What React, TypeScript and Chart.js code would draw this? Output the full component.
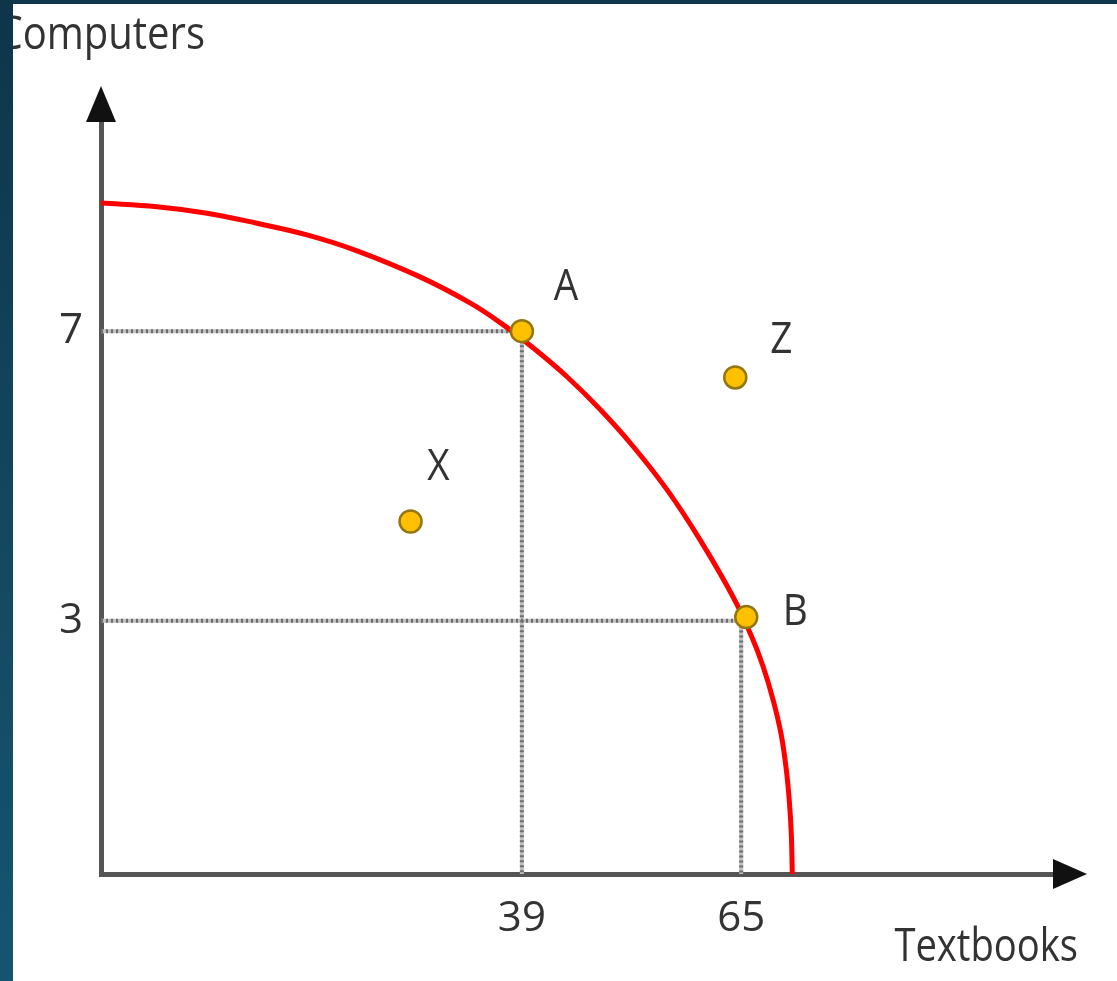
import React, { useEffect, useRef } from 'react';
import { Chart, registerables } from 'chart.js';

Chart.register(...registerables);

// ---- data ----
const xTickValues = [39, 65];
const yTickValues = [3, 7];
const xAxisMin = -10.9;
const xAxisMax = 102.8;
const yAxisMin = -0.5;
const yAxisMax = 10;

const ppfX = [-10.9, -4.26, 1.67, 7.59, 13.52, 19.45, 26.92, 32.85, 36.76, 40.32, 44.35, 48.26, 52.17, 56.2, 60.11, 64.03, 66.24, 67.62, 68.8, 69.72, 70.31, 70.7, 70.94, 71.06];
const ppfY = [8.77, 8.72, 8.63, 8.49, 8.33, 8.11, 7.75, 7.39, 7.09, 6.77, 6.37, 5.92, 5.41, 4.81, 4.12, 3.33, 2.78, 2.36, 1.9, 1.44, 0.98, 0.52, 0.06, -0.5];

const pointNames = ['A', 'B', 'X', 'Z'];
const pointX = [39, 65.6, 25.8, 64.3];
const pointY = [7, 3.05, 4.37, 6.36];

const xTitle = 'Textbooks';
const yTitle = 'Computers';

// ---- styles ----
const labelOffsets: Record<string, [number, number]> = {
  A: [44, -47],
  B: [49, -8],
  X: [28, -58],
  Z: [46, -40],
};
const FONT = "'Open Sans', 'Noto Sans', sans-serif";
const TEXT_COLOR = '#333333';

const guideA = [
  { x: xAxisMin, y: yTickValues[1] },
  { x: xTickValues[0], y: yTickValues[1] },
  { x: xTickValues[0], y: yAxisMin },
];
const guideB = [
  { x: xAxisMin, y: yTickValues[0] },
  { x: xTickValues[1], y: yTickValues[0] },
  { x: xTickValues[1], y: yAxisMin },
];

const decorPlugin = {
  id: 'decor',
  afterDraw(chart: any) {
    const { ctx, chartArea: a, scales } = chart;
    ctx.save();
    // axis arrows
    ctx.fillStyle = '#111';
    ctx.beginPath();
    ctx.moveTo(a.left, a.top - 28);
    ctx.lineTo(a.left - 15, a.top + 8);
    ctx.lineTo(a.left + 15, a.top + 8);
    ctx.closePath();
    ctx.fill();
    ctx.beginPath();
    ctx.moveTo(a.right + 27, a.bottom);
    ctx.lineTo(a.right - 7, a.bottom - 15);
    ctx.lineTo(a.right - 7, a.bottom + 15);
    ctx.closePath();
    ctx.fill();

    ctx.fillStyle = TEXT_COLOR;
    // point labels
    ctx.font = `44px ${FONT}`;
    ctx.textAlign = 'center';
    ctx.textBaseline = 'alphabetic';
    pointNames.forEach((name, i) => {
      const px = scales.x.getPixelForValue(pointX[i]) + labelOffsets[name][0];
      const py = scales.y.getPixelForValue(pointY[i]) + labelOffsets[name][1];
      ctx.save();
      ctx.translate(px, py + 16);
      ctx.scale(0.88, 1);
      ctx.fillText(name, 0, 0);
      ctx.restore();
    });

    // axis titles
    ctx.font = `46px ${FONT}`;
    ctx.textAlign = 'right';
    ctx.save();
    ctx.translate(a.left + 104, a.top - 65);
    ctx.scale(0.87, 1);
    ctx.fillText(yTitle, 0, 0);
    ctx.restore();
    ctx.save();
    ctx.translate(a.right + 18, a.bottom + 87);
    ctx.scale(0.83, 1);
    ctx.fillText(xTitle, 0, 0);
    ctx.restore();
    ctx.restore();
  },
};

export default function App() {
  const ref = useRef<HTMLCanvasElement>(null);
  useEffect(() => {
    const guideBase = {
      borderColor: '#bfbfbf',
      borderWidth: 4,
      pointRadius: 0,
      order: 4,
    };
    const guideDash = {
      borderColor: '#6f6f6f',
      borderWidth: 4,
      borderDash: [2, 3],
      pointRadius: 0,
      order: 3,
    };
    const chart = new Chart(ref.current as HTMLCanvasElement, {
      type: 'line',
      data: {
        datasets: [
          {
            label: 'points',
            data: pointX.map((x, i) => ({ x, y: pointY[i] })),
            showLine: false,
            pointRadius: 11,
            pointBorderWidth: 2.5,
            pointBackgroundColor: '#ffc000',
            pointBorderColor: '#93760f',
            order: 0,
          },
          {
            label: 'PPF',
            data: ppfX.map((x, i) => ({ x, y: ppfY[i] })),
            borderColor: '#ff0000',
            borderWidth: 5,
            pointRadius: 0,
            tension: 0.4,
            order: 1,
          },
          { ...guideBase, label: 'gA', data: guideA },
          { ...guideBase, label: 'gB', data: guideB },
          { ...guideDash, label: 'dA', data: guideA },
          { ...guideDash, label: 'dB', data: guideB },
        ] as any,
      },
      options: {
        responsive: false,
        animation: false,
        events: [],
        layout: { padding: { left: 61, top: 114, right: 57, bottom: 47 } },
        plugins: { legend: { display: false }, tooltip: { enabled: false } },
        scales: {
          x: {
            type: 'linear',
            min: xAxisMin,
            max: xAxisMax,
            grid: { display: false, drawTicks: false },
            border: { display: true, color: '#555', width: 5 },
            afterFit: (s: any) => {
              s.height = 60;
            },
            afterBuildTicks: (s: any) => {
              s.ticks = xTickValues.map((v) => ({ value: v }));
            },
            ticks: {
              autoSkip: false,
              maxRotation: 0,
              padding: 20,
              color: TEXT_COLOR,
              font: { family: FONT, size: 42 },
              callback: (v: any) => String(v),
            },
          },
          y: {
            type: 'linear',
            min: yAxisMin,
            max: yAxisMax,
            grid: { display: false, drawTicks: false },
            border: { display: true, color: '#555', width: 5 },
            afterFit: (s: any) => {
              s.width = 40;
            },
            afterBuildTicks: (s: any) => {
              s.ticks = yTickValues.map((v) => ({ value: v }));
            },
            ticks: {
              autoSkip: false,
              padding: 18,
              color: TEXT_COLOR,
              font: { family: FONT, size: 42 },
              callback: (v: any) => String(v),
            },
          },
        },
      },
      plugins: [decorPlugin],
    } as any);
    return () => chart.destroy();
  }, []);

  return (
    <div
      style={{
        position: 'fixed',
        left: 0,
        top: 0,
        width: 1117,
        height: 981,
        background: 'linear-gradient(180deg, #0e3549 0%, #134a62 60%, #155470 100%)',
      }}
    >
      <div
        style={{
          position: 'absolute',
          left: 13,
          top: 4,
          right: 0,
          bottom: 0,
          background: '#ffffff',
          overflow: 'hidden',
        }}
      >
        <canvas
          ref={ref}
          width={1117}
          height={981}
          style={{ position: 'absolute', left: -13, top: -4, width: 1117, height: 981 }}
        />
      </div>
    </div>
  );
}
